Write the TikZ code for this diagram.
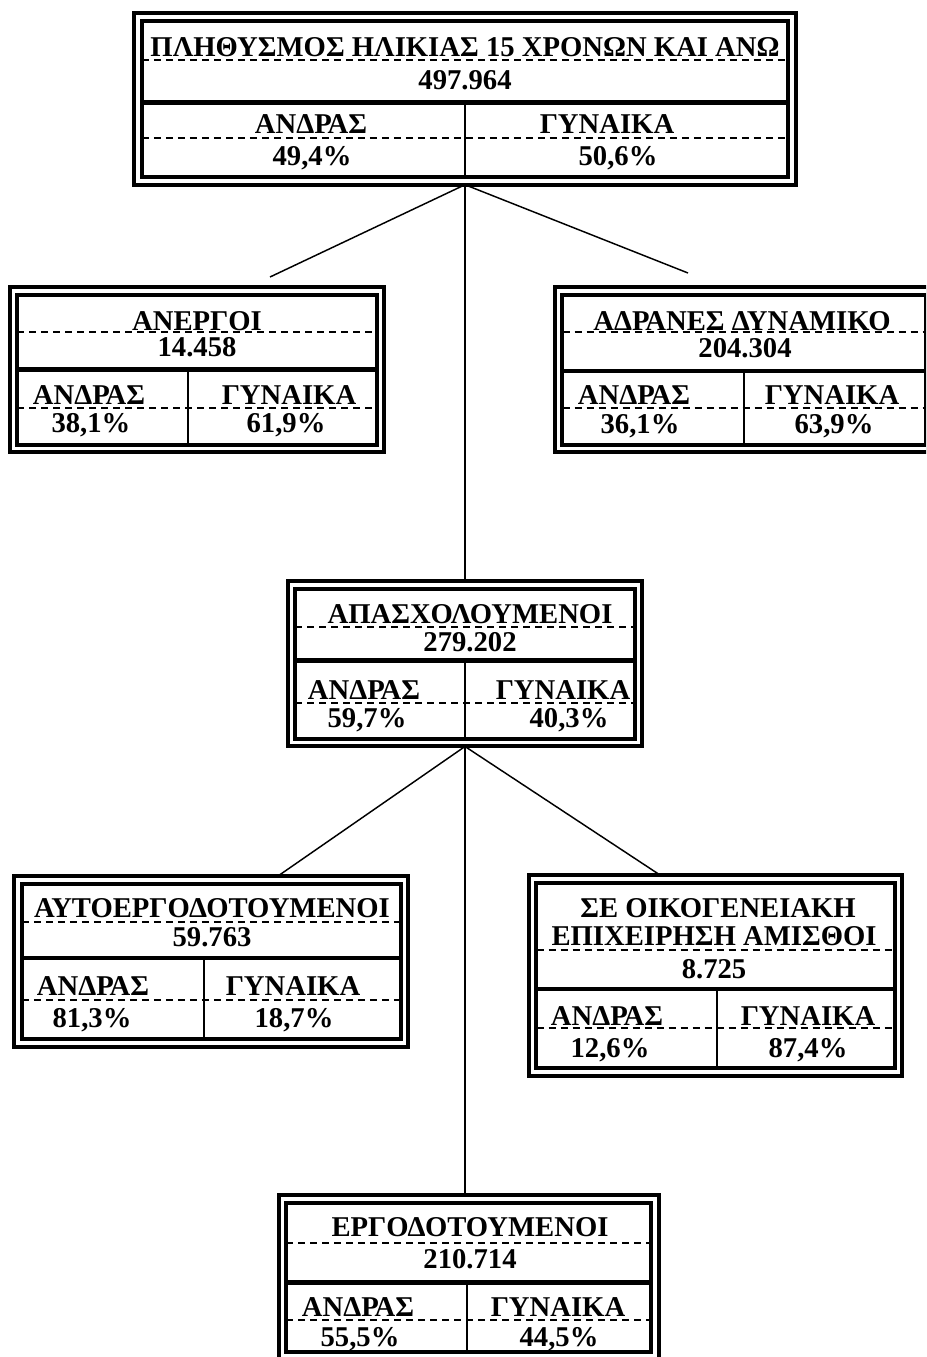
\documentclass[tikz,border=0pt]{standalone}
\usepackage{fontspec}
\setmainfont{Liberation Serif}
\usetikzlibrary{fit}
\newcommand\boxlines[7]{%
  \draw[dsh] (#1,#3) -- (#2,#3);
  \draw[sep] (#1,#4) -- (#2,#4);
  \draw[dsh] (#1,#5) -- (#2,#5);
  \draw[div] (#6,#4) -- (#6,#7);}
\begin{document}
\begin{tikzpicture}[x=0.75pt,y=-0.75pt,
  frame/.style={draw, line width=3pt, double, double distance=2.6pt, inner sep=0pt, outer sep=2.8pt},
  sep/.style={line width=3.5pt},
  dsh/.style={line width=1.4pt, dash pattern=on 5.25pt off 3.75pt},
  div/.style={line width=1.1pt},
  conn/.style={line width=1.1pt},
  txt/.style={anchor=base, inner sep=0pt, font=\fontsize{21.5}{24}\selectfont\bfseries}]
\useasboundingbox (0,0) rectangle (926,1357);
\clip (0,0) rectangle (926,1357);

% frames
\node[frame, fit={(138,17) (792,181)}] (top) {};
\node[frame, fit={(13.25,291) (380.75,448.5)}] (anerg) {};
\node[frame, fit={(558.75,291) (929.25,448.5)}] (adran) {};
\node[frame, fit={(291.5,585) (638.5,742.75)}] (apasch) {};
\node[frame, fit={(18,880) (404.25,1043)}] (auto) {};
\node[frame, fit={(532.75,879) (898.5,1072)}] (oik) {};
\node[frame, fit={(282.5,1199) (655,1356)}] (ergo) {};

% free ends of connectors
\coordinate (c1) at (270,277);
\coordinate (c2) at (688,273);
\coordinate (c3) at (278,876);
\coordinate (c4) at (660,875);

% connectors
\draw[conn] (top.south) -- (apasch.north);
\draw[conn] (top.south) -- (c1);
\draw[conn] (top.south) -- (c2);
\draw[conn] (apasch.south) -- (apasch.south |- ergo.north);
\draw[conn] (apasch.south) -- (c3);
\draw[conn] (apasch.south) -- (c4);

% redraw frames over connector ends
\node[frame, fit={(138,17) (792,181)}] {};
\node[frame, fit={(291.5,585) (638.5,742.75)}] {};
\node[frame, fit={(18,880) (404.25,1043)}] {};
\node[frame, fit={(532.75,879) (898.5,1072)}] {};
\node[frame, fit={(282.5,1199) (655,1356)}] {};

% interior lines
\boxlines{141.75}{788.25}{60}{102.5}{138}{465}{177.25}
\boxlines{17}{377}{332}{369.5}{408}{188}{444.75}
\boxlines{562.5}{925.5}{332}{371}{408}{744}{444.75}
\boxlines{295.25}{634.75}{627}{660.5}{703}{465}{739}
\boxlines{21.75}{400.5}{922}{958}{1000}{204}{1039.25}
\boxlines{536.5}{894.75}{950}{989}{1028}{717}{1068.25}
\boxlines{286.25}{651.25}{1243}{1282.5}{1320}{467}{1352.25}

% texts: top
\node[txt] (t0) at (465,56) {ΠΛΗΘΥΣΜΟΣ ΗΛΙΚΙΑΣ 15 ΧΡΟΝΩΝ ΚΑΙ ΑΝΩ};
\node[txt] (n0) at (465,89) {497.964};
\node[txt] (m0) at (311,133) {ΑΝΔΡΑΣ};
\node[txt] (f0) at (607,133) {ΓΥΝΑΙΚΑ};
\node[txt] (pm0) at (312,165) {49,4\%};
\node[txt] (pf0) at (618,165) {50,6\%};
% anergoi
\node[txt] (t1) at (197,330) {ΑΝΕΡΓΟΙ};
\node[txt] (n1) at (197,356) {14.458};
\node[txt] (m1) at (89,404) {ΑΝΔΡΑΣ};
\node[txt] (f1) at (289,404) {ΓΥΝΑΙΚΑ};
\node[txt] (pm1) at (91,432) {38,1\%};
\node[txt] (pf1) at (286,432) {61,9\%};
% adranes
\node[txt] (t2) at (742,330) {ΑΔΡΑΝΕΣ ΔΥΝΑΜΙΚΟ};
\node[txt] (n2) at (745,357) {204.304};
\node[txt] (m2) at (634,404) {ΑΝΔΡΑΣ};
\node[txt] (f2) at (832,404) {ΓΥΝΑΙΚΑ};
\node[txt] (pm2) at (640,433) {36,1\%};
\node[txt] (pf2) at (834,433) {63,9\%};
% apascholoumenoi
\node[txt] (t3) at (470,623) {ΑΠΑΣΧΟΛΟΥΜΕΝΟΙ};
\node[txt] (n3) at (470,651) {279.202};
\node[txt] (m3) at (364,699) {ΑΝΔΡΑΣ};
\node[txt] (f3) at (563,699) {ΓΥΝΑΙΚΑ};
\node[txt] (pm3) at (367,727) {59,7\%};
\node[txt] (pf3) at (569,727) {40,3\%};
% autoergodotoumenoi
\node[txt] (t4) at (212,917) {ΑΥΤΟΕΡΓΟΔΟΤΟΥΜΕΝΟΙ};
\node[txt] (n4) at (212,946) {59.763};
\node[txt] (m4) at (93,995) {ΑΝΔΡΑΣ};
\node[txt] (f4) at (293,995) {ΓΥΝΑΙΚΑ};
\node[txt] (pm4) at (92,1027) {81,3\%};
\node[txt] (pf4) at (294,1027) {18,7\%};
% oikogeneiaki
\node[txt] (t5a) at (718,917) {ΣΕ ΟΙΚΟΓΕΝΕΙΑΚΗ};
\node[txt] (t5b) at (714,945) {ΕΠΙΧΕΙΡΗΣΗ ΑΜΙΣΘΟΙ};
\node[txt] (n5) at (714,978) {8.725};
\node[txt] (m5) at (607,1025) {ΑΝΔΡΑΣ};
\node[txt] (f5) at (808,1025) {ΓΥΝΑΙΚΑ};
\node[txt] (pm5) at (610,1057) {12,6\%};
\node[txt] (pf5) at (808,1057) {87,4\%};
% ergodotoumenoi
\node[txt] (t6) at (470,1236) {ΕΡΓΟΔΟΤΟΥΜΕΝΟΙ};
\node[txt] (n6) at (470,1268) {210.714};
\node[txt] (m6) at (358,1316) {ΑΝΔΡΑΣ};
\node[txt] (f6) at (558,1316) {ΓΥΝΑΙΚΑ};
\node[txt] (pm6) at (360,1346) {55,5\%};
\node[txt] (pf6) at (559,1346) {44,5\%};
\end{tikzpicture}
\end{document}
